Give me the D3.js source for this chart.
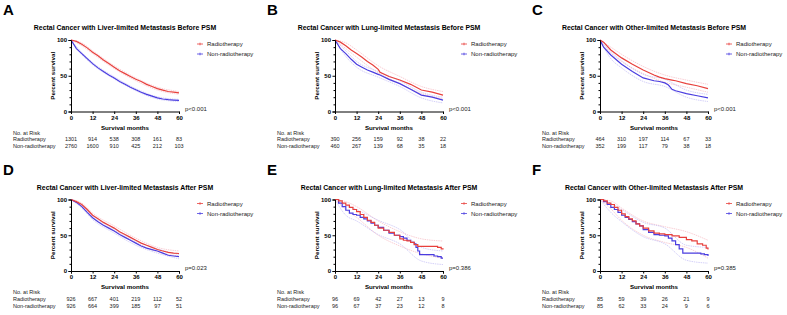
<!DOCTYPE html>
<html>
<head>
<meta charset="utf-8">
<script src="https://cdn.jsdelivr.net/npm/d3@7"></script>
<style>
  body { margin: 0; background: #fff; }
  text { font-family: "Liberation Sans", Arial, sans-serif; }
</style>
</head>
<body>
<div id="chart"></div>
<script>
// ---- data ----
var panelLetters = ["A", "B", "C", "D", "E", "F"];
var panelTitles = [
  "Rectal Cancer with Liver-limited Metastasis Before PSM",
  "Rectal Cancer with Lung-limited Metastasis Before PSM",
  "Rectal Cancer with Other-limited Metastasis Before PSM",
  "Rectal Cancer with Liver-limited Metastasis After PSM",
  "Rectal Cancer with Lung-limited Metastasis After PSM",
  "Rectal Cancer with Other-limited Metastasis After PSM"
];
var pValues = ["p<0.001", "p<0.001", "p<0.001", "p=0.023", "p=0.386", "p=0.385"];
var groupNames = ["Radiotherapy", "Non-radiotherapy"];
var xTicks = [0, 12, 24, 36, 48, 60];
var yTicks = [0, 50, 100];
var yMinorTicks = [10, 20, 30, 40, 60, 70, 80, 90];

// numbers at risk (at 0,12,24,36,48,60 months)
var riskRadA = [1301, 914, 538, 308, 161, 83];
var riskNonA = [2760, 1600, 910, 425, 212, 103];
var riskRadB = [390, 256, 159, 92, 38, 22];
var riskNonB = [460, 267, 139, 68, 35, 18];
var riskRadC = [464, 310, 197, 114, 67, 33];
var riskNonC = [352, 199, 117, 79, 38, 18];
var riskRadD = [926, 667, 401, 219, 112, 52];
var riskNonD = [926, 664, 399, 185, 97, 51];
var riskRadE = [96, 69, 42, 27, 13, 9];
var riskNonE = [96, 67, 37, 23, 12, 8];
var riskRadF = [85, 59, 39, 26, 21, 9];
var riskNonF = [85, 62, 33, 24, 9, 6];

// survival curves (months, percent)
var timeA = [0, 3, 6, 9, 12, 15, 18, 21, 24, 27, 30, 33, 36, 39, 42, 45, 48, 51, 54, 57, 60];
var survRadA = [100, 98, 94, 89, 83, 78, 72, 67, 62, 57, 53, 49, 45, 42, 38, 35, 32, 30, 28, 27, 26];
var survNonA = [100, 88, 81, 74, 67, 61, 56, 51, 47, 42, 38, 34, 30.5, 27, 24, 21.5, 19, 17.5, 16.5, 16, 15.5];

var timeB = [0, 3, 6, 9, 12, 15, 18, 21, 24, 25, 30, 36, 42, 48, 54, 60];
var survRadB = [100, 97, 92, 86, 81, 76, 70, 65, 59, 55, 49, 44, 38, 30, 27, 23];
var survNonB = [100, 88, 81, 73, 66, 62, 58, 55, 52, 51, 45, 39, 31, 23, 20, 16];

var timeC = [0, 2, 6, 12, 18, 24, 30, 33, 36, 38, 40, 42, 48, 54, 60];
var survRadC = [100, 97, 86, 75, 66, 58, 51, 48, 46, 45, 44, 43, 39, 36, 32];
var survNonC = [100, 90, 79, 66, 56, 47, 43, 42, 40, 37, 31, 29, 25, 22, 19];

var timeD = [0, 3, 6, 9, 12, 15, 18, 21, 24, 27, 30, 33, 36, 39, 42, 45, 48, 51, 54, 57, 60];
var survRadD = [100, 97, 93, 86, 78, 73, 68, 64, 60, 55, 51, 47, 43, 39, 36, 33, 30, 28, 26, 25, 24.5];
var survNonD = [100, 96, 90, 82, 74.5, 69, 64, 60, 56, 51, 47, 43, 39, 35, 32, 30, 28, 25, 22, 21, 20];

var timeRadE = [0, 2, 4, 6, 8, 10, 12, 14, 16, 18, 20, 22, 24, 27, 30, 33, 36, 38, 40, 42, 44, 46, 57, 59, 60];
var survRadE = [100, 98, 95, 92, 89, 86, 83, 79, 75, 71, 68, 64, 60, 57, 54, 50, 45, 43, 42, 40, 37, 34.5, 33, 31, 30];
var timeNonE = [0, 2, 4, 6, 8, 10, 12, 14, 16, 18, 20, 22, 24, 27, 30, 33, 36, 38, 40, 42, 44, 45, 46, 47, 55, 57, 59, 60];
var survNonE = [100, 95, 90, 85, 81, 79, 78, 75, 73, 70, 67, 64, 61, 57, 53, 50, 48, 46, 43, 40, 38, 33, 28, 23, 21, 20, 18, 18];

var timeRadF = [0, 2, 4, 6, 8, 10, 12, 14, 16, 18, 20, 22, 24, 27, 30, 33, 36, 40, 44, 48, 51, 54, 57, 59, 60];
var survRadF = [100, 98, 95, 93, 89, 85, 80, 76, 73, 70, 66, 63, 60, 56, 53, 52, 51, 49, 47, 44, 42, 38, 36, 32, 30];
var timeNonF = [0, 2, 4, 6, 8, 10, 12, 14, 16, 18, 20, 22, 24, 27, 30, 33, 36, 38, 40, 42, 44, 46, 56, 58, 60];
var survNonF = [100, 97, 93, 89, 86, 82, 78, 75, 72, 69, 66, 63, 58, 54, 51, 50, 49, 46, 42, 37, 31, 25, 24, 23, 21];

// 95% CI bands, read at these months
var ciTimes = [0, 6, 12, 24, 36, 48, 60];
var ciRadUpA = [100, 96, 85, 64, 47, 34, 28], ciRadLoA = [100, 92, 81, 60, 43, 30, 24];
var ciNonUpA = [100, 82.5, 68.5, 48.5, 32, 20.5, 17], ciNonLoA = [100, 79.5, 65.5, 45.5, 29, 17.5, 14];
var ciRadUpB = [100, 96, 86, 64, 49, 35, 28], ciRadLoB = [100, 88, 76, 54, 39, 25, 18];
var ciNonUpB = [100, 85, 70, 56, 43, 27, 20], ciNonLoB = [100, 77, 62, 48, 35, 19, 12];
var ciRadUpC = [100, 90, 80, 63, 51, 44, 38], ciRadLoC = [100, 82, 70, 53, 41, 34, 27];
var ciNonUpC = [100, 84, 71, 52, 45, 30, 24], ciNonLoC = [100, 74, 61, 42, 35, 20, 14];
var ciRadUpD = [100, 95, 81, 63, 46, 33, 28], ciRadLoD = [100, 91, 75, 57, 40, 27, 21];
var ciNonUpD = [100, 92, 77, 59, 42, 31, 23], ciNonLoD = [100, 88, 72, 53, 36, 25, 17];
var ciRadUpE = [100, 97, 90, 70, 55, 45, 42], ciRadLoE = [100, 86, 75, 50, 35, 24, 18];
var ciNonUpE = [100, 92, 86, 71, 58, 33, 28], ciNonLoE = [100, 78, 70, 51, 38, 14, 9];
var ciRadUpF = [100, 98, 88, 70, 62, 55, 43], ciRadLoF = [100, 87, 71, 50, 40, 33, 18];
var ciNonUpF = [100, 95, 86, 68, 60, 36, 33], ciNonLoF = [100, 82, 69, 48, 38, 15, 11];

var panels = [
  {rad: [timeA, survRadA], non: [timeA, survNonA], risk: [riskRadA, riskNonA], ci: [ciRadUpA, ciRadLoA, ciNonUpA, ciNonLoA], step: false},
  {rad: [timeB, survRadB], non: [timeB, survNonB], risk: [riskRadB, riskNonB], ci: [ciRadUpB, ciRadLoB, ciNonUpB, ciNonLoB], step: false},
  {rad: [timeC, survRadC], non: [timeC, survNonC], risk: [riskRadC, riskNonC], ci: [ciRadUpC, ciRadLoC, ciNonUpC, ciNonLoC], step: false},
  {rad: [timeD, survRadD], non: [timeD, survNonD], risk: [riskRadD, riskNonD], ci: [ciRadUpD, ciRadLoD, ciNonUpD, ciNonLoD], step: false},
  {rad: [timeRadE, survRadE], non: [timeNonE, survNonE], risk: [riskRadE, riskNonE], ci: [ciRadUpE, ciRadLoE, ciNonUpE, ciNonLoE], step: true},
  {rad: [timeRadF, survRadF], non: [timeNonF, survNonF], risk: [riskRadF, riskNonF], ci: [ciRadUpF, ciRadLoF, ciNonUpF, ciNonLoF], step: true}
];

// ---- layout ----
var colors = ["#e8403c", "#4a3de0"];
var ciColors = ["#f4a9b4", "#b3acf2"];
var colX = [0, 264, 529];
var rowTop = [40, 199.5];
var plotLeft = 71, plotW = 108, plotH = 71.5;

var svg = d3.select("#chart")
    .append("svg")
    .attr("width", 787)
    .attr("height", 315);

function kmPanel(i) {
    var p = panels[i];
    var ox = colX[i % 3] + plotLeft;
    var oy = rowTop[Math.floor(i / 3)];

    var g = svg.append("g")
        .attr("transform", "translate(" + ox + "," + oy + ")");

    var x = d3.scaleLinear().domain([0, 60]).range([0, plotW]);
    var y = d3.scaleLinear().domain([0, 100]).range([plotH, 0]);

    // letter + title
    g.append("text")
        .attr("x", -ox + colX[i % 3] + 3)
        .attr("y", -25)
        .style("font-size", "15px")
        .style("font-weight", "bold")
        .text(panelLetters[i]);

    g.append("text")
        .attr("x", plotW / 2)
        .attr("y", -10)
        .attr("text-anchor", "middle")
        .style("font-size", "6.9px")
        .style("font-weight", "bold")
        .text(panelTitles[i]);

    // CI lines
    var ciLine = d3.line()
        .x((d, k) => x(ciTimes[k]))
        .y(d => y(d))
        .curve(d3.curveMonotoneX);
    p.ci.forEach(function(arr, k) {
        g.append("path")
            .attr("d", ciLine(arr))
            .attr("fill", "none")
            .attr("stroke", ciColors[k < 2 ? 0 : 1])
            .attr("stroke-width", 0.7)
            .attr("stroke-dasharray", "1.5,0.8")
            .attr("opacity", 0.8);
    });

    // survival curves
    var line = d3.line()
        .x(d => x(d[0]))
        .y(d => y(d[1]))
        .curve(p.step ? d3.curveStepAfter : d3.curveLinear);
    [p.non, p.rad].forEach(function(s, k) {
        var pts = s[0].map((t, j) => [t, s[1][j]]);
        g.append("path")
            .attr("d", line(pts))
            .attr("fill", "none")
            .attr("stroke", colors[k === 0 ? 1 : 0])
            .attr("stroke-width", 1.2);
    });

    // axes
    var xAxis = g.append("g")
        .attr("transform", "translate(0," + plotH + ")")
        .call(d3.axisBottom(x).tickValues(xTicks).tickSize(2.5).tickPadding(1.5));
    var yAxis = g.append("g")
        .call(d3.axisLeft(y).tickValues(yTicks).tickSize(2.5).tickPadding(1.5));
    g.append("g")
        .call(d3.axisLeft(y).tickValues(yMinorTicks).tickSize(1.5).tickFormat(""))
        .select(".domain").remove();
    [xAxis, yAxis].forEach(function(a) {
        a.selectAll("text")
            .style("font-size", "6px")
            .style("font-weight", "bold")
            .attr("fill", "#000");
        a.selectAll("line, path").attr("stroke", "#000").attr("stroke-width", 1);
    });
    g.selectAll(".tick line").attr("stroke", "#000");

    g.append("text")
        .attr("x", plotW / 2)
        .attr("y", plotH + 18)
        .attr("text-anchor", "middle")
        .style("font-size", "6.2px")
        .style("font-weight", "bold")
        .text("Survival months");

    g.append("text")
        .attr("transform", "translate(-16," + plotH / 2 + ") rotate(-90)")
        .attr("text-anchor", "middle")
        .style("font-size", "6.2px")
        .style("font-weight", "bold")
        .text("Percent survival");

    // p value
    g.append("text")
        .attr("x", plotW + 6)
        .attr("y", plotH - 1)
        .style("font-size", "6px")
        .attr("fill", "#222")
        .text(pValues[i]);

    // legend
    groupNames.forEach(function(name, k) {
        var ly = 4 + k * 10;
        g.append("line")
            .attr("x1", plotW + 18).attr("x2", plotW + 24)
            .attr("y1", ly).attr("y2", ly)
            .attr("stroke", colors[k]).attr("stroke-width", 0.8);
        g.append("line")
            .attr("x1", plotW + 21).attr("x2", plotW + 21)
            .attr("y1", ly - 1.3).attr("y2", ly + 1.3)
            .attr("stroke", colors[k]).attr("stroke-width", 0.8);
        g.append("text")
            .attr("x", plotW + 28)
            .attr("y", ly + 2)
            .style("font-size", "6px")
            .attr("fill", "#222")
            .text(name);
    });

    // number at risk table
    var labelX = -58;
    g.append("text")
        .attr("x", labelX).attr("y", plotH + 23)
        .style("font-size", "5.5px").attr("fill", "#222")
        .text("No. at Risk");
    groupNames.forEach(function(name, k) {
        var ry = plotH + 29.5 + k * 7;
        g.append("text")
            .attr("x", labelX).attr("y", ry)
            .style("font-size", "5.5px").attr("fill", "#222")
            .text(name);
        g.selectAll(null)
            .data(p.risk[k])
            .join("text")
            .attr("x", (d, j) => x(xTicks[j]))
            .attr("y", ry)
            .attr("text-anchor", "middle")
            .style("font-size", "5.5px")
            .attr("fill", "#222")
            .text(d => d);
    });
}

for (var i = 0; i < 6; i++) kmPanel(i);
</script>
</body>
</html>
